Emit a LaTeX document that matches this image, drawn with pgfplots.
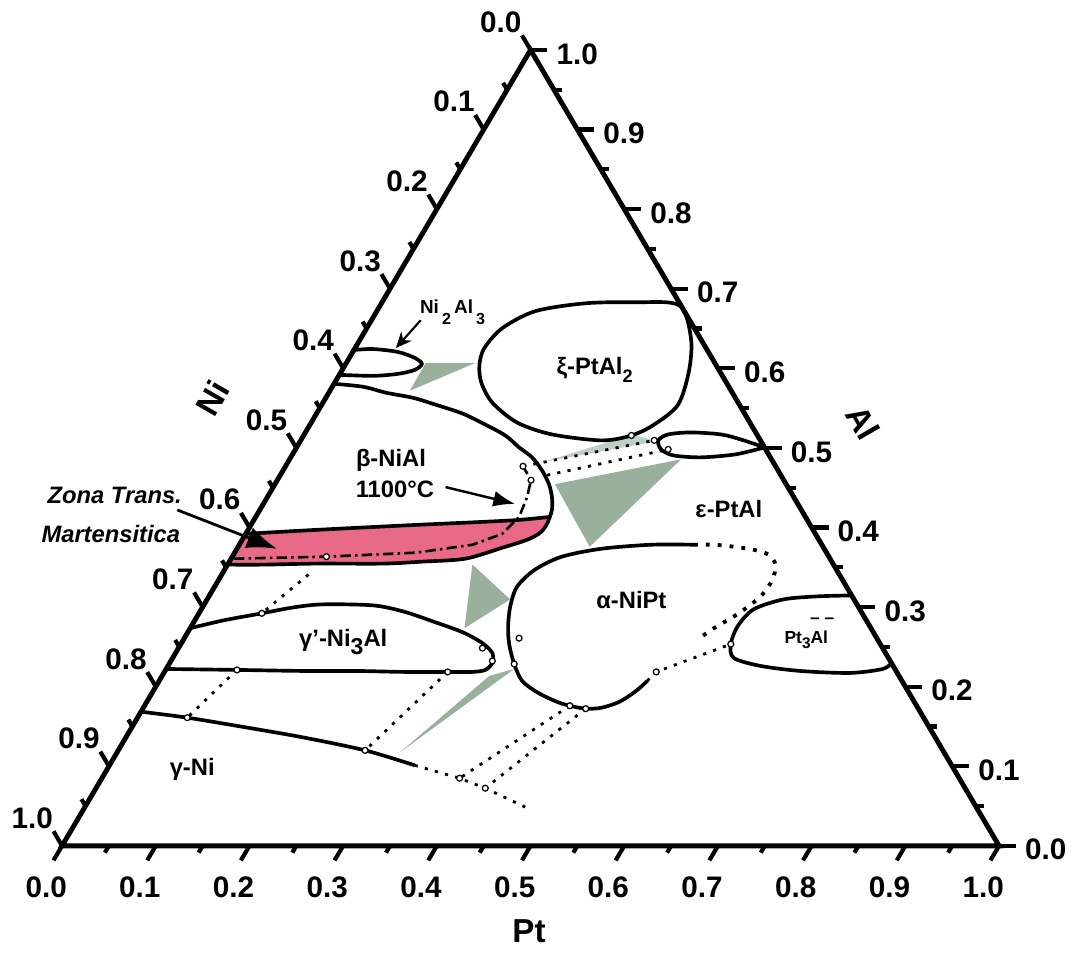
\documentclass[border=0pt]{standalone}
\usepackage{pgfplots}
\pgfplotsset{compat=1.18}
\usepackage{fontspec}
\setmainfont{Liberation Sans}
\usetikzlibrary{calc,arrows.meta}
\definecolor{tiegray}{RGB}{152,176,156}
\definecolor{pinkzone}{RGB}{232,106,134}
\newcommand\lab{\fontsize{6.8}{8}\selectfont\bfseries}
\newcommand\tick{\fontsize{8.5}{10}\selectfont\bfseries}
\newcommand\lsub[2][-0.55ex]{\raisebox{#1}{#2}}
\pgfplotsset{
  /pgfplots/table/tern/.style={x expr=\thisrow{Pt}+0.5*\thisrow{Al}, y expr=\thisrow{Al}},
  bnd/.style={black, line width=1.05pt, smooth, no marks},
  dots/.style={black, line width=0.8pt, dash pattern=on 0.9pt off 2.1pt, no marks},
  circ/.style={only marks, mark=*, mark size=0.85pt, mark options={fill=white, draw=black, line width=0.35pt}},
}
\begin{document}
\begin{tikzpicture}
\begin{axis}[
  width=10.78cm, height=9.52cm, scale only axis,
  xmin=-0.06045, xmax=1.08271, ymin=-0.12609, ymax=1.06242,
  hide axis, clip=false,
]
\path (rel axis cs:0,0) rectangle (rel axis cs:1,1);
% ---------- tie triangles ----------
\addplot[fill=tiegray, draw=none] table[tern] {
Pt Al
0.0847 0.6067
0.1377 0.6067
0.0853 0.5718
};
\addplot[fill=tiegray, fill opacity=0.6, draw=none] table[tern] {
Pt Al
0.3514 0.5169
0.3800 0.5081
0.2712 0.4819
};
\addplot[fill=tiegray, draw=none] table[tern] {
Pt Al
0.2988 0.4544
0.4179 0.4856
0.3752 0.3758
};
\addplot[fill=tiegray, draw=none] table[tern] {
Pt Al
0.2613 0.3533
0.3235 0.3096
0.2928 0.2734
};
\addplot[fill=tiegray, draw=none] table[tern] {
Pt Al
0.3714 0.2222
0.3493 0.2135
0.3019 0.1174
};
% ---------- martensitic zone ----------
\addplot[fill=pinkzone, draw=none] table[tern] {
Pt Al
0 0.3920
0.0730 0.3970
0.1759 0.4032
0.2451 0.4070
0.2831 0.4095
0.3135 0.4132
0.3153 0.4045
0.3135 0.3933
0.3040 0.3845
0.2825 0.3745
0.2501 0.3608
0.2064 0.3571
0.1652 0.3546
0.0942 0.3546
0.0386 0.3533
0 0.3533
};
\addplot[bnd] table[tern] {
Pt Al
0 0.3920
0.0730 0.3970
0.1759 0.4032
0.2451 0.4070
0.2831 0.4095
0.3135 0.4132
};
% ---------- Ni2Al3 ----------
\addplot[bnd] table[tern] {
Pt Al
0.000 0.6230
0.0198 0.6242
0.0482 0.6205
0.0700 0.6130
0.0812 0.6055
0.0775 0.5980
0.0619 0.5930
0.0366 0.5905
0.000 0.5918
};
% ---------- xi-PtAl2 ----------
\addplot[black, line width=1.05pt, smooth cycle] table[tern] {
Pt Al
0.1433 0.6042
0.1380 0.6255
0.1446 0.6504
0.1690 0.6717
0.2170 0.6816
0.2694 0.6829
0.3190 0.6792
0.3522 0.6380
0.3707 0.5968
0.3803 0.5543
0.3673 0.5293
0.3498 0.5156
0.3211 0.5094
0.2644 0.5169
0.2198 0.5318
0.1808 0.5568
0.1566 0.5818
};
% ---------- beta-NiAl ----------
\addplot[bnd] table[tern] {
Pt Al
0 0.5805
0.0329 0.5768
0.0611 0.5693
0.0928 0.5630
0.1215 0.5543
0.1559 0.5431
0.1870 0.5293
0.2152 0.5156
0.2375 0.5006
0.2575 0.4881
0.2762 0.4719
0.2924 0.4544
0.3037 0.4382
0.3118 0.4220
0.3153 0.4045
0.3135 0.3933
0.3040 0.3845
0.2825 0.3745
0.2501 0.3608
0.2064 0.3571
0.1652 0.3546
0.0942 0.3546
0.0386 0.3533
0 0.3533
};
% dash-dot line in the zone
\addplot[black, line width=0.75pt, dash pattern=on 3pt off 1.2pt on 0.7pt off 1.2pt, no marks] table[tern] {
Pt Al
0.003 0.3608
0.1005 0.3633
0.1934 0.3683
0.2489 0.3783
0.2738 0.3920
0.2812 0.4132
0.2772 0.4382
0.2708 0.4594
0.2535 0.4769
};
% ---------- epsilon loop ----------
\addplot[bnd] table[tern] {
Pt Al
0.4994 0.5006
0.4690 0.5106
0.4447 0.5169
0.4116 0.5194
0.3885 0.5169
0.3816 0.5094
0.3903 0.4981
0.4069 0.4906
0.4378 0.4881
0.4731 0.4919
0.4994 0.5006
};
% ---------- gamma'-Ni3Al ----------
\addplot[bnd] table[tern] {
Pt Al
0 0.2734
0.0312 0.2834
0.0671 0.2921
0.0973 0.2996
0.1272 0.3034
0.1808 0.3021
0.2164 0.2946
0.2544 0.2821
0.2932 0.2684
0.3212 0.2547
0.3381 0.2422
0.3443 0.2297
0.3412 0.2210
0.3288 0.2185
0.3023 0.2185
0.2545 0.2185
0.2040 0.2197
0.1478 0.2197
0.0761 0.2210
0 0.2222
};
% ---------- gamma-Ni ----------
\addplot[bnd] table[tern] {
Pt Al
0 0.1685
0.0531 0.1610
0.1229 0.1486
0.1897 0.1361
0.2635 0.1199
0.3259 0.1011
};
% ---------- alpha-NiPt ----------
\addplot[bnd] table[tern] {
Pt Al
0.4853 0.3783
0.4397 0.3783
0.3892 0.3733
0.3518 0.3633
0.3313 0.3471
0.3228 0.3258
0.3279 0.3009
0.3381 0.2759
0.3505 0.2534
0.3683 0.2285
0.3874 0.2072
0.4118 0.1923
0.4376 0.1810
0.4539 0.1760
0.4727 0.1723
0.4890 0.1735
0.5044 0.1810
0.5155 0.1948
0.5210 0.2072
};
\addplot[black, line width=1.1pt, dash pattern=on 1.1pt off 2.3pt, no marks, smooth] table[tern] {
Pt Al
0.4853 0.3783
0.5066 0.3783
0.5290 0.3758
0.5521 0.3720
0.5711 0.3658
0.5847 0.3533
0.5909 0.3346
0.5888 0.3134
0.5761 0.2921
0.5590 0.2734
0.5508 0.2622
};
% ---------- Pt3Al ----------
\addplot[bnd] table[tern] {
Pt Al
0.6854 0.3146
0.6492 0.3134
0.6151 0.3096
0.5895 0.2971
0.5831 0.2759
0.5870 0.2534
0.5989 0.2360
0.6325 0.2260
0.6780 0.2197
0.7323 0.2172
0.7648 0.2222
0.7703 0.2297
};
% ---------- dotted tie lines ----------
\addplot[dots] table[tern] {
Pt Al
0.0926 0.3408
0.0671 0.2921
};
\addplot[dots] table[tern] {
Pt Al
0.0761 0.2210
0.0531 0.1610
};
\addplot[dots] table[tern] {
Pt Al
0.3023 0.2185
0.2635 0.1199
};
\addplot[dots] table[tern] {
Pt Al
0.4539 0.1760
0.3818 0.0849
};
\addplot[dots] table[tern] {
Pt Al
0.4727 0.1723
0.4155 0.0724
};
\addplot[dots] table[tern] {
Pt Al
0.3259 0.1011
0.3818 0.0849
0.4155 0.0724
0.4699 0.0487
};
\addplot[dots] table[tern] {
Pt Al
0.2535 0.4769
0.3773 0.5094
};
\addplot[dots] table[tern] {
Pt Al
0.2847 0.4657
0.3978 0.4981
};
\addplot[dots] table[tern] {
Pt Al
0.5210 0.2072
0.5249 0.2185
0.5870 0.2534
};
% ---------- small open circles ----------
\addplot[circ] table[tern] {
Pt Al
0.1005 0.3633
0.2708 0.4594
0.2535 0.4769
0.3498 0.5156
0.3773 0.5094
0.3978 0.4981
0.0671 0.2921
0.0761 0.2210
0.3023 0.2185
0.3244 0.2484
0.3431 0.2322
0.0531 0.1610
0.2635 0.1199
0.3818 0.0849
0.4155 0.0724
0.3573 0.2609
0.3683 0.2285
0.4539 0.1760
0.4727 0.1723
0.5249 0.2185
0.5870 0.2534
};
% ---------- labels ----------
\node[font=\fontsize{5.4}{6}\selectfont\bfseries] at (axis cs:0.4168,0.6700) {Ni\,\lsub[-1.1ex]{\fontsize{4.6}{5}\selectfont 2}\,Al\,\lsub[-1.1ex]{\fontsize{4.6}{5}\selectfont 3}};
\draw[line width=0.6pt,-{Stealth[length=1.6mm,width=1.4mm]}] (axis cs:0.3828,0.6604) -- (axis cs:0.3563,0.6255);
\node[font=\fontsize{6.8}{8}\selectfont\bfseries] at (axis cs:0.5684,0.5980) {ξ-PtAl\lsub[-0.6ex]{\fontsize{5.2}{6}\selectfont 2}};
\node[font=\lab] at (axis cs:0.3510,0.4844) {β-NiAl};
\node[font=\lab] at (axis cs:0.3552,0.4482) {1100°C};
\draw[line width=0.7pt,-{Latex[length=2.2mm,width=1.6mm]}] (axis cs:0.4093,0.4507) -- (axis cs:0.4836,0.4295);
\node[font=\lab] at (axis cs:0.7116,0.4232) {ε-PtAl};
\node[font=\lab] at (axis cs:0.6076,0.3084) {α-NiPt};
\node[font=\lab] at (axis cs:0.3001,0.2560) {γ'-Ni\lsub[-0.7ex]{\fontsize{6.6}{7}\selectfont 3}Al};
\node[font=\lab] at (axis cs:0.1389,0.0961) {γ-Ni};
\node[font=\fontsize{5}{6}\selectfont\bfseries] at (axis cs:0.7943,0.2590) {Pt\lsub[-0.6ex]{\fontsize{4.4}{5}\selectfont 3}Al};
\node[font=\fontsize{5}{6}\selectfont\bfseries] at (axis cs:0.8112,0.2834) {– –};
\node[font=\fontsize{6.8}{8}\selectfont\bfseries\itshape] at (axis cs:0.0562,0.4407) {Zona Trans.};
\node[font=\fontsize{6.8}{8}\selectfont\bfseries\itshape] at (axis cs:0.0520,0.3920) {Martensitica};
\draw[line width=0.8pt,-{Latex[length=3mm,width=2.2mm]}] (axis cs:0.1230,0.4220) -- (axis cs:0.2291,0.3733);
\node[font=\fontsize{9.5}{11}\selectfont\bfseries] at (axis cs:0.4984,-0.1074) {Pt};
\node[font=\fontsize{9.5}{11}\selectfont\bfseries, rotate=60, inner sep=0pt] at (axis cs:0.1601,0.5630) {Ni};
\node[font=\fontsize{9.5}{11}\selectfont\bfseries, rotate=-60, inner sep=0pt] at (axis cs:0.8547,0.5318) {Al};
\coordinate (A) at (axis cs:0,0);
\coordinate (B) at (axis cs:1,0);
\coordinate (C) at (axis cs:0.5,1);
\end{axis}
% ---------- triangle frame, ticks, tick labels ----------
\draw[line width=1.4pt, line join=miter] (A) -- (B) -- (C) -- cycle;
\foreach \k in {0,...,20}{
  \ifodd\k \def\len{0.8mm}\else\def\len{1.7mm}\fi
  \draw[line width=1.2pt] ($(A)!\k/20!(B)$) -- ++(239.5:\len);
  \draw[line width=1.2pt] ($(B)!\k/20!(C)$) -- ++(0:\len);
  \draw[line width=1.2pt] ($(C)!\k/20!(A)$) -- ++(120.5:\len);
}
\foreach \k/\t in {0/0.0,1/0.1,2/0.2,3/0.3,4/0.4,5/0.5,6/0.6,7/0.7,8/0.8,9/0.9,10/1.0}{
  \node[font=\tick] at ($(A)!\k/10!(B)+(-1.6mm,-4.2mm)$) {\t};
  \node[font=\tick] at ($(B)!\k/10!(C)+(4.7mm,-0.4mm)$) {\t};
  \node[font=\tick] at ($(C)!\k/10!(A)+(-3.0mm,2.8mm)$) {\t};
}
\end{tikzpicture}
\end{document}
